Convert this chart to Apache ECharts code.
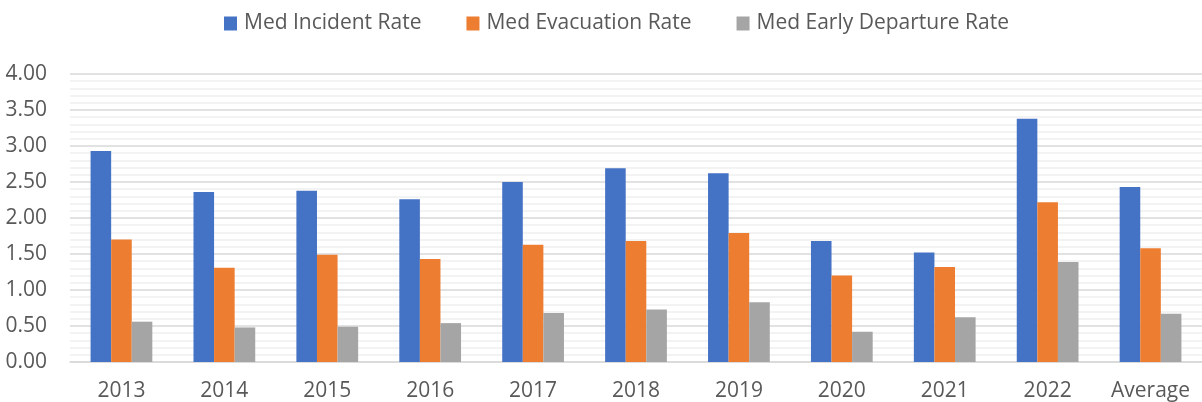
<!DOCTYPE html>
<html><head><meta charset="utf-8">
<script src="https://cdn.jsdelivr.net/npm/echarts@6/dist/echarts.min.js"></script>
<style>html,body{margin:0;padding:0;background:#fff}#c{width:1202px;height:402px}</style>
</head><body><div id="c"></div>
<script>
const categories = ['2013','2014','2015','2016','2017','2018','2019','2020','2021','2022','Average'];
const incidentRate = [2.93, 2.36, 2.38, 2.26, 2.50, 2.69, 2.62, 1.68, 1.52, 3.38, 2.43];
const evacuationRate = [1.70, 1.31, 1.49, 1.43, 1.63, 1.68, 1.79, 1.20, 1.32, 2.22, 1.58];
const earlyDepartureRate = [0.56, 0.48, 0.49, 0.54, 0.68, 0.73, 0.83, 0.42, 0.62, 1.39, 0.67];
const seriesNames = ['Med Incident Rate', 'Med Evacuation Rate', 'Med Early Departure Rate'];
const colors = ['#4472C4', '#ED7D31', '#A5A5A5'];
const font = '"Open Sans", sans-serif';
const chart = echarts.init(document.getElementById('c'));
chart.setOption({
  animation: false,
  color: colors,
  textStyle: {fontFamily: font},
  legend: {
    top: 8, left: 219, itemWidth: 13, itemHeight: 14, itemGap: 45,
    icon: 'rect',
    textStyle: {fontSize: 21, color: '#595959', fontFamily: font, padding: [0,0,0,2]},
    data: seriesNames
  },
  grid: {left: 70, right: -5, top: 74, bottom: 40, containLabel: false},
  xAxis: {
    type: 'category', data: categories,
    axisLine: {lineStyle: {color: '#d9d9d9', width: 1.5}},
    axisTick: {show: false},
    axisLabel: {fontSize: 21, color: '#595959', margin: 19, fontFamily: font}
  },
  yAxis: {
    type: 'value', min: 0, max: 4, interval: 0.5,
    axisLabel: {fontSize: 21, color: '#595959', margin: 23, fontFamily: font, formatter: v => v.toFixed(2)},
    axisLine: {show: false}, axisTick: {show: false},
    splitLine: {lineStyle: {color: '#d9d9d9', width: 1.5}},
    minorTick: {show: false, splitNumber: 5},
    minorSplitLine: {show: true, lineStyle: {color: '#f0f0f0', width: 1.5}}
  },
  series: [
    {name: seriesNames[0], type: 'bar', data: incidentRate, barGap: '0%', barCategoryGap: '40%'},
    {name: seriesNames[1], type: 'bar', data: evacuationRate, barGap: '0%', barCategoryGap: '40%'},
    {name: seriesNames[2], type: 'bar', data: earlyDepartureRate, barGap: '0%', barCategoryGap: '40%'}
  ]
});
</script></body></html>
